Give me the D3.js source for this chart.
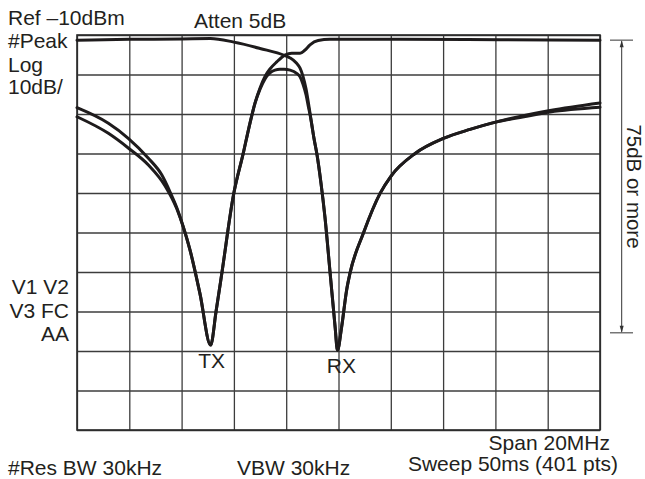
<!DOCTYPE html>
<html><head><meta charset="utf-8">
<script src="https://cdn.jsdelivr.net/npm/d3@7"></script>
<style>
body{margin:0;background:#fff}
svg{display:block}
text{font-family:"Liberation Sans",Arial,Helvetica,sans-serif;fill:#231f20}
</style>
</head><body><svg id="c" width="645" height="479"></svg>
<script>
// ---- data (frequency offset in MHz across 20 MHz span, level in dBm) ----
const spanMHz = [0, 20];
const levelRange = [-110, -10];
const freqGrid = d3.range(0, 21, 2);
const levelGrid = d3.range(-110, -9, 10);

const txFilter = [[0,-11.3],[2,-11.1],[4,-11.0],[5.1,-10.9],[6,-11.8],[7,-13.4],[7.95,-15.2],[8.15,-15.8],[8.38,-17.0],[8.53,-18.4],[8.64,-20.4],[8.76,-23.7],[8.85,-27.2],[8.95,-31.5],[9.06,-36.1],[9.18,-40.4],[9.33,-47.5],[9.48,-56.0],[9.68,-70.3],[9.87,-83.9],[9.96,-89.8],[10.12,-83.9],[10.31,-74.6],[10.44,-70.3],[10.95,-60.2],[11.59,-50.1],[12.01,-45.7],[12.93,-40.0],[14.01,-36.2],[15.03,-33.9],[16.05,-32.0],[16.94,-30.6],[18.09,-29.1],[20,-27.2]];

const rxFilter = [[0,-28.4],[1.2,-32.35],[1.96,-36.15],[2.73,-41.2],[3.24,-45.4],[3.56,-49.75],[3.82,-53.8],[4.06,-58.5],[4.32,-64.4],[4.7,-75.4],[5.11,-88.5],[5.32,-79.9],[5.55,-69.8],[5.97,-51.0],[6.37,-39.6],[6.58,-33.3],[6.81,-27.2],[7.0,-23.4],[7.19,-20.5],[7.38,-18.6],[7.64,-16.8],[7.95,-15.1],[8.21,-14.6],[8.53,-14.6],[8.72,-13.8],[8.91,-12.5],[9.22,-11.4],[9.67,-11.1],[12.35,-11.1],[16.18,-11.2],[20,-11.3]];

const isolation = [[0,-30.7],[1.2,-34.9],[1.96,-38.6],[2.73,-42.9],[3.37,-48.2],[3.82,-54.05],[4.06,-58.5],[4.32,-64.4],[4.7,-75.4],[5.11,-88.5],[5.32,-79.9],[5.55,-69.8],[5.97,-51.0],[6.37,-39.6],[6.58,-33.3],[6.81,-27.2],[7.0,-23.7],[7.19,-21.1],[7.38,-19.6],[7.57,-18.9],[7.76,-18.7],[7.92,-18.7],[8.15,-18.9],[8.4,-19.7],[8.53,-20.6],[8.64,-22.4],[8.76,-25.2],[8.85,-28.2],[8.95,-31.5],[9.06,-36.1],[9.18,-40.4],[9.33,-47.5],[9.48,-56.0],[9.68,-70.3],[9.87,-83.9],[9.96,-89.8],[10.12,-83.9],[10.31,-74.6],[10.44,-70.3],[10.95,-60.2],[11.59,-50.1],[12.01,-45.7],[12.93,-40.0],[14.01,-36.2],[15.03,-33.9],[16.05,-32.0],[16.94,-30.9],[18.09,-29.5],[20,-28.3]];

const headerLeft = ["Ref \u201310dBm", "#Peak", "Log", "10dB/"];
const headerTitle = "Atten 5dB";
const sideLeft = ["V1 V2", "V3 FC", "AA"];
const footerLeft = "#Res BW 30kHz";
const footerMid = "VBW 30kHz";
const footerRight = ["Span 20MHz", "Sweep 50ms (401 pts)"];
const notchLabels = ["TX", "RX"];
const rangeLabel = "75dB or more";
const rangeLevels = [-11.3, -85.4];

// ---- drawing ----
const svg = d3.select("#c");
const L = 77, R = 600, T = 35, B = 430;
const x = d3.scaleLinear().domain(spanMHz).range([L, R]);
const y = d3.scaleLinear().domain(levelRange).range([B, T]);
const FS = 21;

const grid = svg.append("g");
grid.append("g").attr("transform", `translate(0,${B})`)
  .call(d3.axisBottom(x).tickValues(freqGrid).tickSize(-(B - T)).tickFormat(""))
  .call(g => g.select(".domain").remove())
  .call(g => g.selectAll("line").attr("stroke", "#3c3c3c").attr("stroke-width", 1.3));
grid.append("g").attr("transform", `translate(${L},0)`)
  .call(d3.axisLeft(y).tickValues(levelGrid).tickSize(-(R - L)).tickFormat(""))
  .call(g => g.select(".domain").remove())
  .call(g => g.selectAll("line").attr("stroke", "#3c3c3c").attr("stroke-width", 1.3));
svg.append("rect").attr("x", L).attr("y", T).attr("width", R - L).attr("height", B - T)
  .attr("fill", "none").attr("stroke", "#2a2a2a").attr("stroke-width", 1.6);

const line = d3.line().x(d => x(d[0])).y(d => y(d[1])).curve(d3.curveMonotoneX);
[txFilter, rxFilter, isolation].forEach(tr => {
  svg.append("path").datum(tr).attr("d", line)
    .attr("fill", "none").attr("stroke", "#1e1b1c").attr("stroke-width", 3)
    .attr("stroke-linejoin", "round").attr("stroke-linecap", "round");
});

// notch labels
[[rxFilter, notchLabels[0], 1], [txFilter, notchLabels[1], 4]].forEach(([tr, lbl, dx]) => {
  const m = tr.reduce((a, b) => b[1] < a[1] ? b : a);
  svg.append("text").attr("x", x(m[0]) + dx).attr("y", y(m[1]) + 23)
    .attr("text-anchor", "middle").attr("font-size", FS).text(lbl);
});

// header
const hy = [25, 48, 71.5, 94];
headerLeft.forEach((t, i) => svg.append("text").attr("x", 8).attr("y", hy[i]).attr("font-size", FS).text(t));
svg.append("text").attr("x", 194).attr("y", 27.5).attr("font-size", FS).text(headerTitle);

// side labels
const sy = [293.5, 317.5, 341];
sideLeft.forEach((t, i) => svg.append("text").attr("x", 69).attr("y", sy[i]).attr("text-anchor", "end").attr("font-size", FS).text(t));

// footer
svg.append("text").attr("x", 8).attr("y", 475).attr("font-size", FS).text(footerLeft);
svg.append("text").attr("x", 237).attr("y", 475).attr("font-size", FS).text(footerMid);
svg.append("text").attr("x", 610).attr("y", 450).attr("text-anchor", "end").attr("font-size", FS).text(footerRight[0]);
svg.append("text").attr("x", 618).attr("y", 471).attr("text-anchor", "end").attr("font-size", FS).text(footerRight[1]);

// range annotation
const ax = 621.7, y1 = y(rangeLevels[0]), y2 = y(rangeLevels[1]);
const ann = svg.append("g").attr("stroke", "#333").attr("stroke-width", 1);
ann.append("line").attr("x1", 610).attr("x2", 633).attr("y1", y1).attr("y2", y1);
ann.append("line").attr("x1", 610).attr("x2", 633).attr("y1", y2).attr("y2", y2);
ann.append("line").attr("x1", ax).attr("x2", ax).attr("y1", y1 + 1).attr("y2", y2 - 1);
svg.append("path").attr("d", `M${ax},${y1}l-2,7h4z`).attr("fill", "#333");
svg.append("path").attr("d", `M${ax},${y2}l-2,-7h4z`).attr("fill", "#333");
svg.append("text").attr("transform", `translate(627,${(y1 + y2) / 2}) rotate(90)`)
  .attr("text-anchor", "middle").attr("font-size", 20.5).text(rangeLabel);
</script>
</body></html>
